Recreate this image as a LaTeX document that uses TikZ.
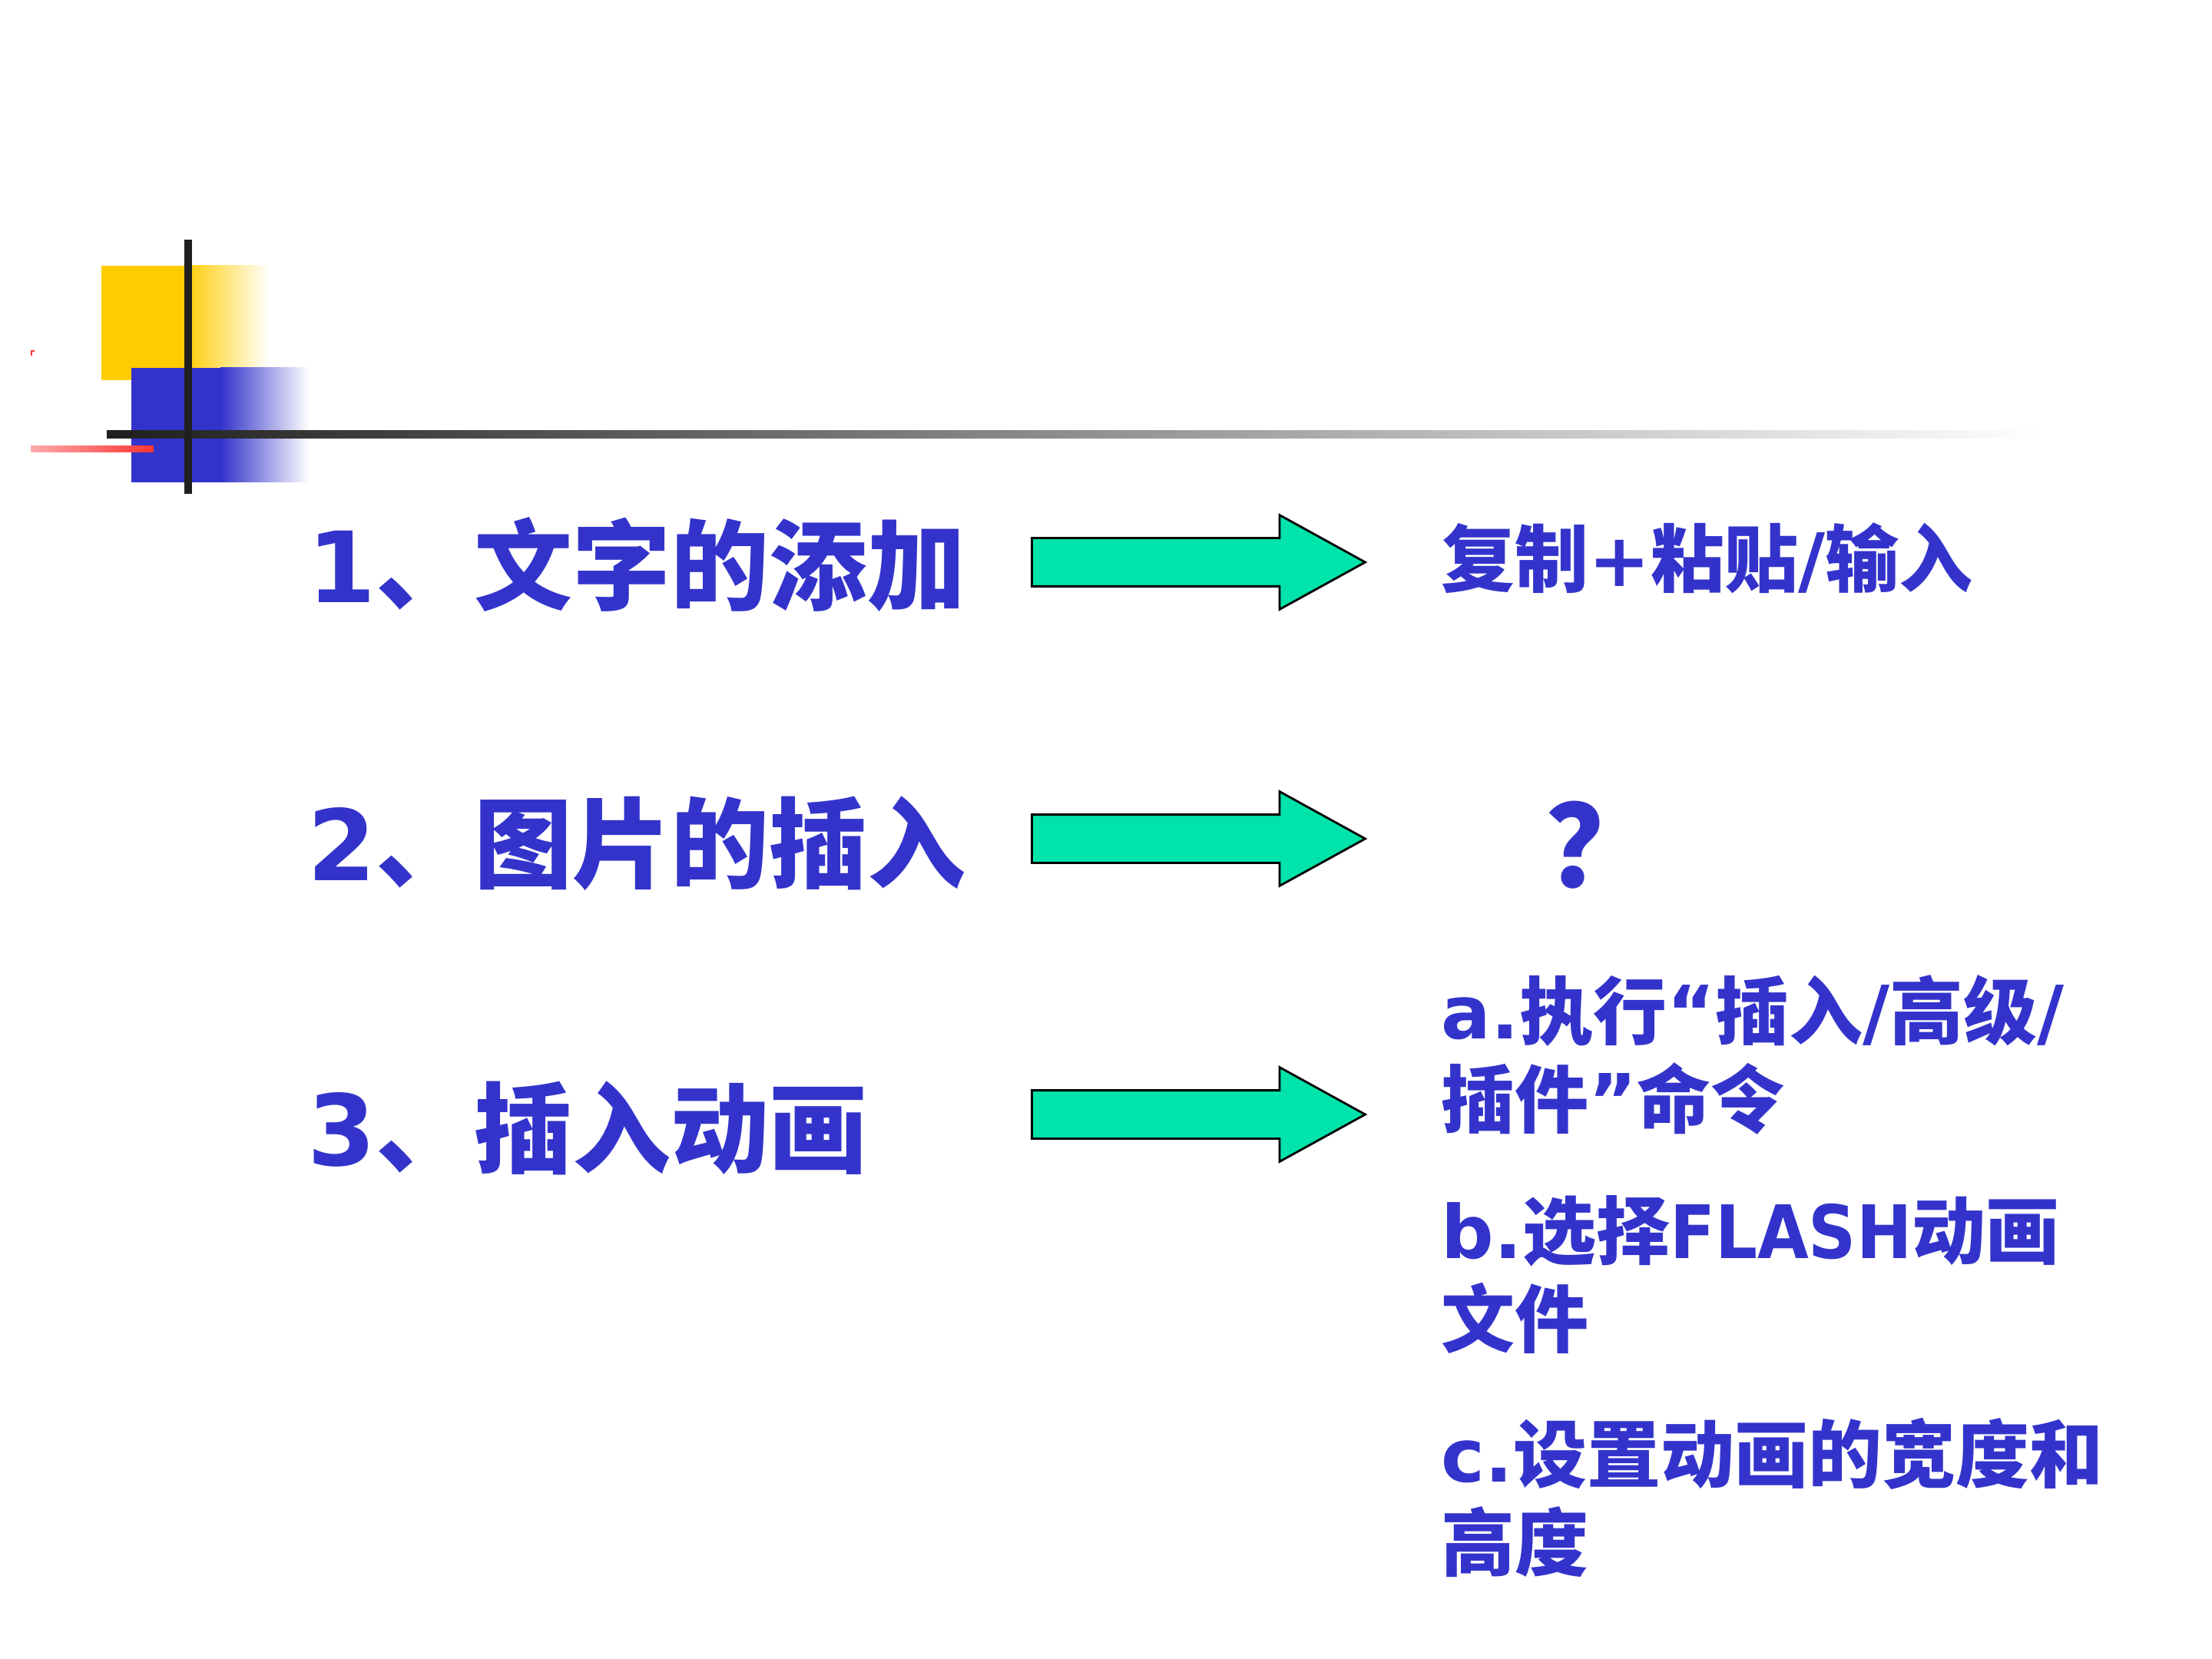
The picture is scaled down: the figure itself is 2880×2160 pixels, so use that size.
\documentclass[tikz,border=0pt]{standalone}
\usepackage{fontspec}
\setmainfont{DejaVu Sans}
\newfontfamily\cjk{Noto Sans CJK SC}
\newfontfamily\latnarrow{DejaVu Sans}[FakeStretch=0.9]
\newcommand{\lat}[1]{{\rmfamily\bfseries #1}}
\newcommand{\latn}[1]{{\latnarrow\bfseries #1}}
\usetikzlibrary{shapes.arrows}
\definecolor{itemblue}{RGB}{51,51,204}
\definecolor{arrowgreen}{RGB}{0,227,170}
\definecolor{boxyellow}{RGB}{255,204,0}

\begin{document}
\begin{tikzpicture}[x=0.25pt,y=-0.25pt]
    \tikzstyle{item}=[anchor=west,inner sep=0pt,text=itemblue,font=\cjk\bfseries\fontsize{32}{38}\selectfont]
    \tikzstyle{detail}=[anchor=west,inner sep=0pt,align=left,text=itemblue,font=\cjk\bfseries\fontsize{24}{28.75}\selectfont]
    \tikzstyle{fatarrow}=[single arrow,draw=black,fill=arrowgreen,line width=0.7pt,inner xsep=0pt,inner ysep=7.5pt,minimum height=108.5pt,single arrow head extend=7.5pt,single arrow tip angle=57.7,single arrow head indent=0pt]
    \useasboundingbox (0,0) rectangle (2880,2160);
    \fill[boxyellow] (132,346) rectangle (240,495);
    \shade[left color=boxyellow,right color=white] (240,346) rectangle (350,495);
    \fill[itemblue] (171,479) rectangle (287,628);
    \shade[left color=itemblue,right color=white] (287,479) rectangle (403,628);
    \shade[left color=red!33,right color=red!80] (40,581) rectangle (200,589);
    \draw[red!80,line width=0.3pt] (41,463) -- (41,457) -- (45,457);
    \shade[left color=black!88,middle color=black!40,right color=white] (139,561) rectangle (2660,571);
    \fill[black!88] (240,312) rectangle (250,643);
    \node[item] (item1) at (400,735) {\lat{1}、文字的添加};
    \node[item] (item2) at (400,1098) {\lat{2}、图片的插入};
    \node[item] (item3) at (400,1469) {\lat{3}、插入动画};
    \node[fatarrow] (arr1) at (1532,732) {};
    \node[fatarrow] (arr2) at (1532,1092) {};
    \node[fatarrow] (arr3) at (1532,1451) {};
    \node[detail] (res1) at (1876,727) {复制\lat{+}粘贴\lat{/}输入};
    \node[item,anchor=center,font=\cjk\bfseries\fontsize{37}{40}\selectfont] (res2) at (2086,1100) {？};
    \node[detail] (resa) at (1876,1373) {\lat{a.}执行\lat{“}插入\lat{/}高级\lat{/}\\插件\lat{”}命令};
    \node[detail] (resb) at (1876,1660) {\lat{b.}选择\latn{FLASH}动画\\文件};
    \node[detail] (resc) at (1876,1950) {\lat{c.}设置动画的宽度和\\高度};
\end{tikzpicture}
\end{document}
